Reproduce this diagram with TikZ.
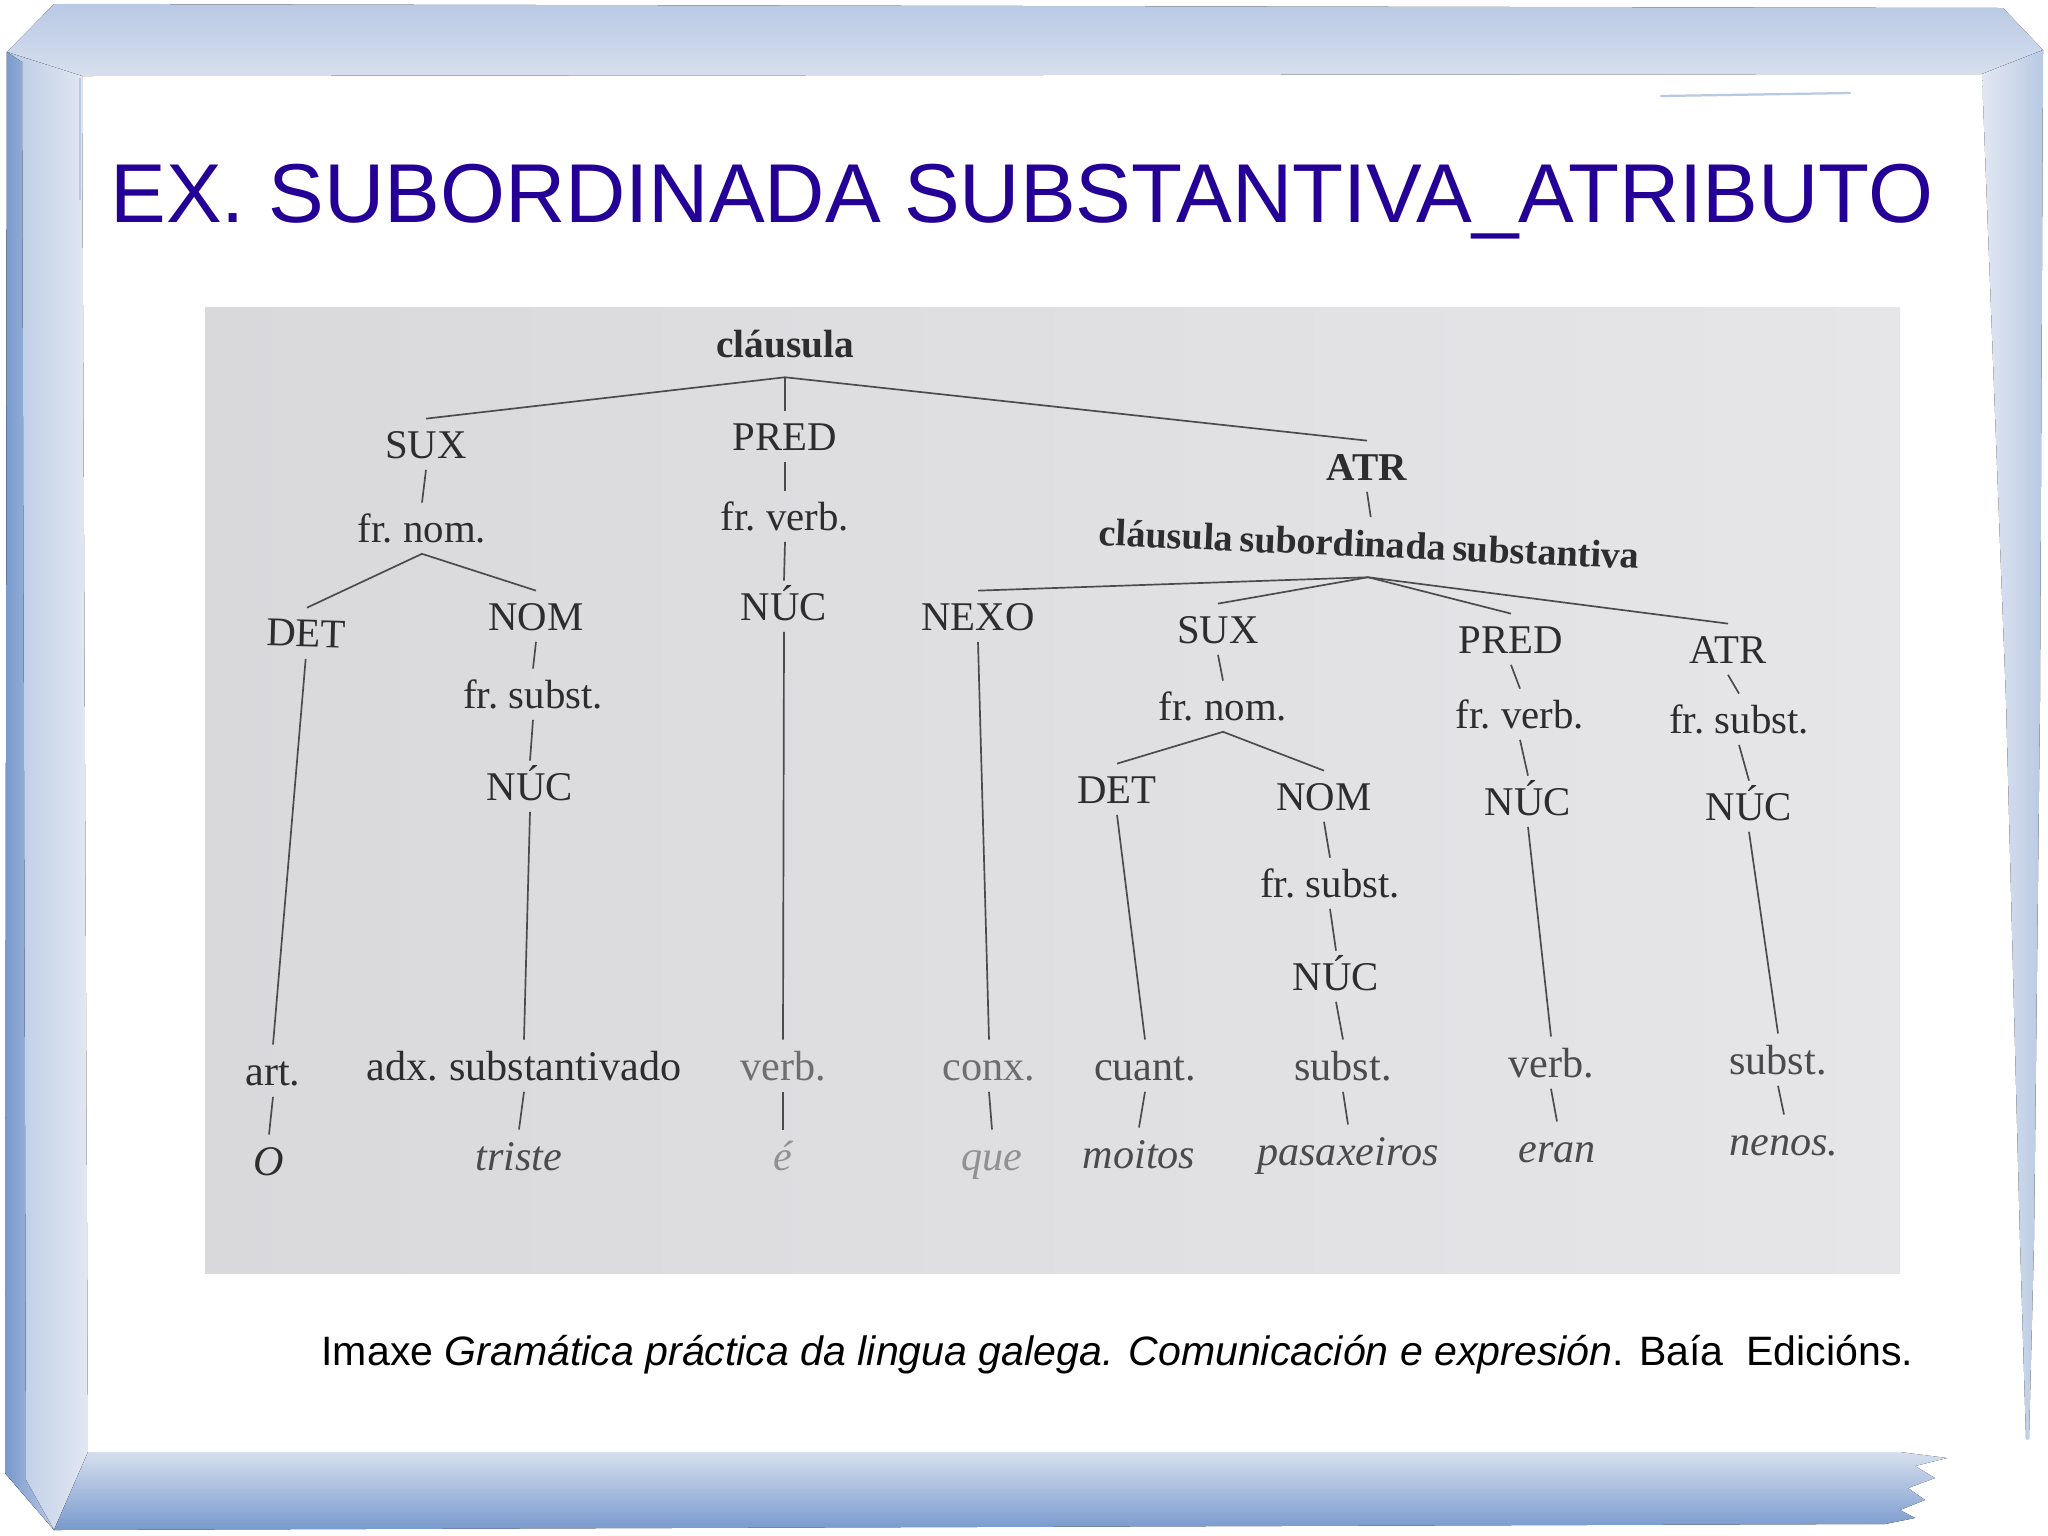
\documentclass[tikz,border=0pt]{standalone}
\usepackage{fontspec}
\setmainfont[WordSpace=0.7]{Liberation Serif}
\newfontfamily\sansf{Liberation Sans}
\definecolor{titleblue}{RGB}{36,0,150}
\definecolor{txt}{RGB}{45,45,45}
\definecolor{txtlight}{RGB}{110,110,110}
\definecolor{txtpale}{RGB}{145,145,145}
\definecolor{txtmid}{RGB}{75,75,75}
\definecolor{linec}{RGB}{75,75,75}
\definecolor{photoL}{RGB}{217,217,220}
\definecolor{photoR}{RGB}{230,230,233}
\definecolor{fdark}{RGB}{120,153,205}
\definecolor{fmid}{RGB}{185,201,228}
\definecolor{flight}{RGB}{214,223,238}
\definecolor{fpale}{RGB}{226,232,242}
\tikzset{
  lbl/.style={font=\fontsize{14.5}{16}\selectfont, text=txt, anchor=base,
    inner xsep=1pt, inner ysep=4pt, text height=9.8pt, text depth=0pt},
  hd/.style={lbl, font=\bfseries\fontsize{14}{16}\selectfont},
  leaf/.style={lbl, font=\fontsize{15}{17}\selectfont, text height=10.2pt},
  word/.style={leaf, font=\itshape\fontsize{15}{17}\selectfont},
  conn/.style={draw=linec, line width=0.6pt},
}
\begin{document}
\begin{tikzpicture}[x=0.0125cm, y=-0.0125cm]
\useasboundingbox (0,0) rectangle (2048,1535);
\fill[white] (0,0) rectangle (2048,1535);
% frame
\fill[top color=fmid, bottom color=flight] (7,52) -- (54,4) -- (2003,8) -- (2043,50) -- (1982,74) -- (82,76) -- cycle;
\fill[left color=fmid, right color=fpale] (7,52) -- (82,76) -- (88,1452) -- (54,1530) -- (5,1473) -- cycle;
\fill[left color=fdark, right color=fmid] (7,52) -- (22,62) -- (26,1480) -- (54,1530) -- (5,1473) -- cycle;
\fill[top color=flight, bottom color=fdark] (88,1452) -- (1900,1452) -- (1947,1458) -- (1915,1466) -- (1935,1478) -- (1908,1488) -- (1925,1500) -- (1900,1510) -- (1915,1518) -- (1885,1524) -- (54,1530) -- cycle;
\fill[left color=fpale, right color=fmid] (1982,74) -- (2043,50) -- (2040,700) -- (2034,1240) -- (2029,1439) -- (2026,1439) -- (2020,1240) -- (2006,700) -- cycle;
\draw[fmid, line width=0.8pt, line cap=round] (1661,96) -- (1850,93);
\draw[fmid, line width=0.8pt] (80,78) -- (80,200);
% photo
\fill[left color=photoL, right color=photoR] (205,307) rectangle (1900,1273);
% title and caption
\node[anchor=base west, inner sep=0, text=titleblue, font=\sansf\fontsize{29.7}{32}\selectfont] (title) at (110,222) {EX. SUBORDINADA SUBSTANTIVA\_ATRIBUTO};
\node[anchor=base west, inner sep=0, text=black, font=\sansf\fontsize{14.6}{17}\selectfont] (caption) at (321,1365) {Imaxe \textit{Gramática práctica da lingua galega. Comunicación e expresión}. Baía\ \ Edicións.};
% tree nodes
\node[hd, inner ysep=7pt] (c0) at (785,357) {cláusula};
\node[lbl] (sux) at (426,458) {SUX};
\node[lbl] (pred) at (785,450) {PRED};
\node[hd] (atr) at (1367,480) {ATR};
\node[lbl] (fnom) at (422,542) {fr. nom.};
\node[lbl] (fverb) at (785,530) {fr. verb.};
\node[hd, font=\bfseries\fontsize{13.6}{16}\selectfont, rotate=-2.5, inner ysep=7pt, text height=7pt] (csub) at (1369,557) {cláusula subordinada substantiva};
\node[lbl, rotate=-1.5] (det) at (306,647) {DET};
\node[lbl] (nom) at (536,630) {NOM};
\node[lbl] (nuc) at (784,620) {NÚC};
\node[lbl] (nexo) at (978,630) {NEXO};
\node[lbl] (sux2) at (1218,643) {SUX};
\node[lbl] (pred2) at (1511,653) {PRED};
\node[lbl] (atr2) at (1728,663) {ATR};
\node[lbl] (fsubst) at (533,708) {fr. subst.};
\node[lbl] (fnom2) at (1223,720) {fr. nom.};
\node[lbl] (fverb2) at (1520,728) {fr. verb.};
\node[lbl] (fsubst2) at (1739,733) {fr. subst.};
\node[lbl] (nuc1) at (530,800) {NÚC};
\node[lbl] (det3) at (1117,803) {DET};
\node[lbl] (nom3) at (1324,810) {NOM};
\node[lbl] (nuc2) at (1528,815) {NÚC};
\node[lbl] (nuc4) at (1749,820) {NÚC};
\node[lbl] (fsubst3) at (1330,897) {fr. subst.};
\node[lbl] (nuc3) at (1336,990) {NÚC};
% category leaves
\node[leaf] (art) at (273,1085) {art.};
\node[leaf] (adx) at (524,1080) {adx. substantivado};
\node[leaf, text=txtlight] (verb) at (783,1080) {verb.};
\node[leaf, text=txtlight] (conx) at (989,1080) {conx.};
\node[leaf, text=txtmid] (cuant) at (1145,1080) {cuant.};
\node[leaf, text=txtmid] (subst) at (1343,1080) {subst.};
\node[leaf, text=txtmid] (verb2) at (1551,1077) {verb.};
\node[leaf, text=txtmid] (subst2) at (1778,1074) {subst.};
% words
\node[word] (wO) at (269,1175) {O};
\node[word, text=txtmid] (wtriste) at (519,1170) {triste};
\node[word, text=txtpale] (we) at (783,1170) {é};
\node[word, text=txtpale] (wque) at (992,1170) {que};
\node[word, text=txtmid] (wmoitos) at (1139,1168) {moitos};
\node[word, text=txtmid] (wpas) at (1348,1165) {pasaxeiros};
\node[word, text=txtmid] (weran) at (1557,1162) {eran};
\node[word, text=txtmid] (wnenos) at (1784,1155) {nenos.};
% connectors
\draw[conn] (sux.north) -- (c0.south) -- (atr.north);
\draw[conn] (c0.south) -- (pred.north);
\draw[conn] (sux.south) -- (fnom.north);
\draw[conn] (pred.south) -- (fverb.north);
\draw[conn] (atr.south) -- (csub.north);
\draw[conn] (det.north) -- (fnom.south) -- (nom.north);
\draw[conn] (fverb.south) -- (nuc.north);
\draw[conn] (csub.south) -- (nexo.north);
\draw[conn] (csub.south) -- (sux2.north);
\draw[conn] (csub.south) -- (pred2.north);
\draw[conn] (csub.south) -- (atr2.north);
\draw[conn] (nom.south) -- (fsubst.north);
\draw[conn] (fsubst.south) -- (nuc1.north);
\draw[conn] (sux2.south) -- (fnom2.north);
\draw[conn] (pred2.south) -- (fverb2.north);
\draw[conn] (atr2.south) -- (fsubst2.north);
\draw[conn] (det3.north) -- (fnom2.south) -- (nom3.north);
\draw[conn] (fverb2.south) -- (nuc2.north);
\draw[conn] (fsubst2.south) -- (nuc4.north);
\draw[conn] (nom3.south) -- (fsubst3.north);
\draw[conn] (fsubst3.south) -- (nuc3.north);
\draw[conn] (det.south) -- (art.north);
\draw[conn] (nuc1.south) -- (adx.north);
\draw[conn] (nuc.south) -- (verb.north);
\draw[conn] (nexo.south) -- (conx.north);
\draw[conn] (det3.south) -- (cuant.north);
\draw[conn] (nuc3.south) -- (subst.north);
\draw[conn] (nuc2.south) -- (verb2.north);
\draw[conn] (nuc4.south) -- (subst2.north);
\draw[conn] (art.south) -- (wO.north);
\draw[conn] (adx.south) -- (wtriste.north);
\draw[conn] (verb.south) -- (we.north);
\draw[conn] (conx.south) -- (wque.north);
\draw[conn] (cuant.south) -- (wmoitos.north);
\draw[conn] (subst.south) -- (wpas.north);
\draw[conn] (verb2.south) -- (weran.north);
\draw[conn] (subst2.south) -- (wnenos.north);
\end{tikzpicture}
\end{document}
